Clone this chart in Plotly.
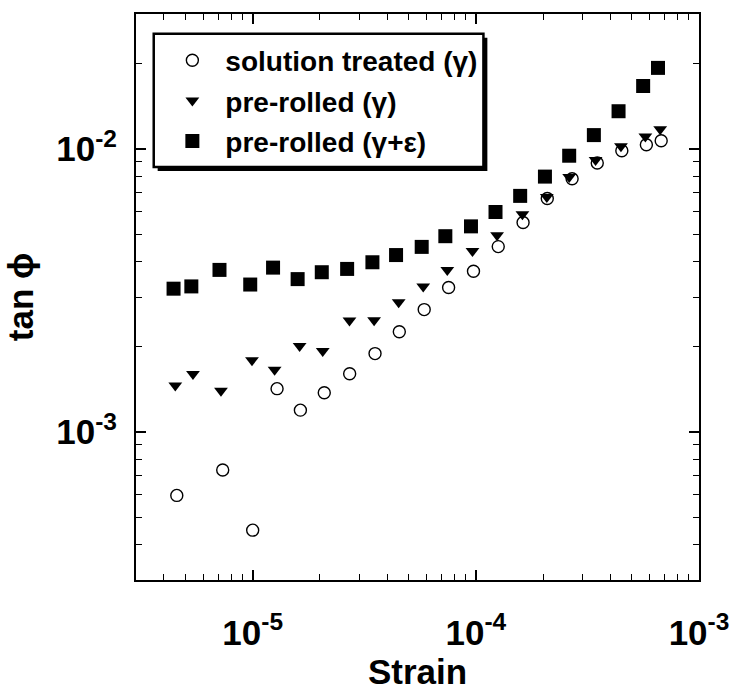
import numpy as np
import plotly.graph_objects as go

# Loss factor tan(phi) versus strain amplitude for three material states
strain_solution = [4.57e-6, 7.34e-6, 1.00e-5, 1.286e-5, 1.636e-5, 2.093e-5, 2.72e-5,
                   3.534e-5, 4.54e-5, 5.87e-5, 7.55e-5, 9.76e-5, 1.26e-4, 1.628e-4,
                   2.09e-4, 2.70e-4, 3.50e-4, 4.51e-4, 5.81e-4, 6.77e-4]
tan_solution = [5.97e-4, 7.34e-4, 4.50e-4, 1.423e-3, 1.195e-3, 1.376e-3, 1.607e-3,
                1.893e-3, 2.262e-3, 2.708e-3, 3.24e-3, 3.70e-3, 4.52e-3, 5.50e-3,
                6.69e-3, 7.85e-3, 8.93e-3, 9.86e-3, 1.035e-2, 1.069e-2]

strain_rolled_g = [4.50e-6, 5.40e-6, 7.21e-6, 9.93e-6, 1.254e-5, 1.623e-5, 2.06e-5,
                   2.715e-5, 3.50e-5, 4.51e-5, 5.81e-5, 7.45e-5, 9.66e-5, 1.245e-4,
                   1.617e-4, 2.08e-4, 2.62e-4, 3.44e-4, 4.47e-4, 5.75e-4, 6.70e-4]
tan_rolled_g = [1.459e-3, 1.602e-3, 1.40e-3, 1.794e-3, 1.66e-3, 2.014e-3, 1.935e-3,
                2.48e-3, 2.485e-3, 2.875e-3, 3.27e-3, 3.74e-3, 4.36e-3, 4.96e-3,
                5.88e-3, 6.77e-3, 7.96e-3, 9.15e-3, 1.022e-2, 1.108e-2, 1.175e-2]

strain_rolled_ge = [4.42e-6, 5.31e-6, 7.10e-6, 9.75e-6, 1.234e-5, 1.59e-5, 2.04e-5,
                    2.65e-5, 3.44e-5, 4.39e-5, 5.72e-5, 7.30e-5, 9.51e-5, 1.225e-4,
                    1.58e-4, 2.04e-4, 2.62e-4, 3.38e-4, 4.36e-4, 5.62e-4, 6.55e-4]
tan_rolled_ge = [3.21e-3, 3.27e-3, 3.74e-3, 3.32e-3, 3.81e-3, 3.47e-3, 3.67e-3,
                 3.77e-3, 3.98e-3, 4.22e-3, 4.51e-3, 4.92e-3, 5.33e-3, 5.99e-3,
                 6.83e-3, 7.99e-3, 9.47e-3, 1.12e-2, 1.36e-2, 1.67e-2, 1.935e-2]

series_names = ["solution treated (\u03b3)", "pre-rolled (\u03b3)", "pre-rolled (\u03b3+\u03b5)"]

x_major = [1e-5, 1e-4, 1e-3]
x_major_text = ["10<sup>-5</sup>", "10<sup>-4</sup>", "10<sup>-3</sup>"]
y_major = [1e-3, 1e-2]
y_major_text = ["10<sup>-3</sup>", "10<sup>-2</sup>"]

FONT = "Liberation Sans, Arial, sans-serif"

def minor_ticks(lo_exp, hi_exp):
    vals = []
    for e in range(lo_exp, hi_exp + 1):
        for m in range(2, 10):
            vals.append(m * 10.0 ** e)
    return vals

fig = go.Figure()

fig.add_trace(go.Scatter(
    x=strain_solution, y=tan_solution, mode="markers", name=series_names[0],
    legendgroup="a",
    marker=dict(symbol="circle-open", size=12, color="black", line=dict(width=1.4, color="black")),
))
fig.add_trace(go.Scatter(
    x=strain_rolled_g, y=tan_rolled_g, mode="markers", name=series_names[1],
    legendgroup="b",
    marker=dict(symbol="triangle-down", size=12, color="black", line=dict(width=0)),
))
fig.add_trace(go.Scatter(
    x=strain_rolled_ge, y=tan_rolled_ge, mode="markers", name=series_names[2],
    legendgroup="c",
    marker=dict(symbol="square", size=14, color="black", line=dict(width=0)),
))

axis_common = dict(
    type="log", showgrid=False, zeroline=False,
    showline=True, linecolor="black", linewidth=2, mirror="allticks",
    ticks="inside", ticklen=10, tickwidth=1.5, tickcolor="black",
    tickfont=dict(family=FONT, size=35, color="black", weight="bold"),
)

fig.update_xaxes(
    **axis_common,
    range=[np.log10(3e-6), -3],
    tickvals=x_major, ticktext=x_major_text,
    ticklabelstandoff=21,
    minor=dict(tickvals=minor_ticks(-6, -4), ticks="inside", ticklen=6,
               tickwidth=1.2, tickcolor="black", showgrid=False),
    title=dict(text="Strain", font=dict(family=FONT, size=35, color="black", weight="bold"),
               standoff=4),
)
fig.update_yaxes(
    **axis_common,
    range=[np.log10(3e-4), np.log10(3e-2)],
    tickvals=y_major, ticktext=y_major_text,
    ticklabelstandoff=10,
    minor=dict(tickvals=minor_ticks(-4, -2), ticks="inside", ticklen=6,
               tickwidth=1.2, tickcolor="black", showgrid=False),
    title=dict(text="tan \u03d5", font=dict(family=FONT, size=35, color="black", weight="bold"),
               standoff=12),
)

# Legend frame with a drop shadow
fig.add_shape(type="rect", xref="paper", yref="paper",
              x0=0.0385, x1=0.6241, y0=0.7228, y1=0.9579,
              fillcolor="black", line=dict(width=0), layer="above")
fig.add_shape(type="rect", xref="paper", yref="paper",
              x0=0.0315, x1=0.6171, y0=0.7298, y1=0.9649,
              fillcolor="white", line=dict(width=2.5, color="black"), layer="above")

fig.update_layout(
    width=741, height=693,
    margin=dict(l=136, r=33, t=14, b=109),
    paper_bgcolor="white", plot_bgcolor="white",
    showlegend=True,
    legend=dict(
        x=0.0415, y=0.962, xanchor="left", yanchor="top",
        bgcolor="rgba(0,0,0,0)", borderwidth=0,
        font=dict(family=FONT, size=28, color="black", weight="bold"),
        itemwidth=56, traceorder="grouped", tracegroupgap=1,
    ),
)

fig.write_html("out.html")
